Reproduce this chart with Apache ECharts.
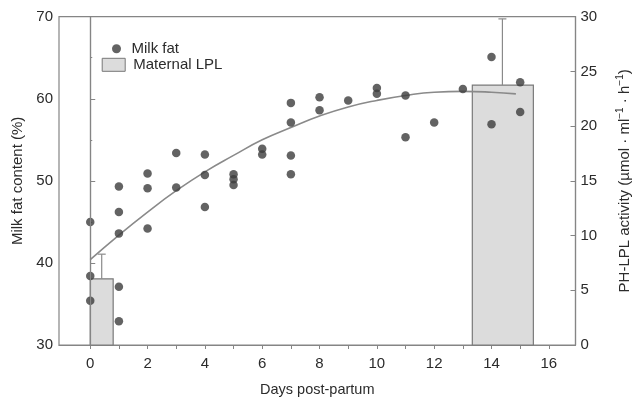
<!DOCTYPE html>
<html>
<head>
<meta charset="utf-8">
<script src="https://cdn.jsdelivr.net/npm/echarts@6/dist/echarts.min.js"></script>
<style>html,body{margin:0;padding:0;background:#fff}#c{width:640px;height:402px}</style>
</head>
<body>
<div id="c"></div>
<script>
// Milk fat content (%) by day post-partum
var fatDays   = [0, 0, 0, 1, 1, 1, 1, 1, 2, 2, 2, 3, 3, 4, 4, 4, 5, 5, 5, 6, 6, 7, 7, 7, 7, 8, 8, 9, 10, 10, 11, 11, 12, 13, 14, 14, 15, 15];
var fatValues = [45.0, 38.4, 35.4, 49.3, 46.2, 43.6, 37.1, 32.9, 50.9, 49.1, 44.2, 53.4, 49.2, 53.2, 50.7, 46.8, 50.8, 50.2, 49.5, 53.9, 53.2, 59.5, 57.1, 53.1, 50.8, 60.2, 58.6, 59.8, 61.3, 60.6, 60.4, 55.3, 57.1, 61.2, 65.1, 56.9, 62.0, 58.4];
// Fitted curve
var curveDays   = [0, 1, 2, 3, 4, 5, 6, 7, 8, 9, 10, 11, 12, 13, 14, 14.85];
var curveValues = [40.4, 43.4, 46.2, 48.8, 51.1, 53.1, 55.0, 56.5, 57.9, 59.0, 59.8, 60.4, 60.8, 60.9, 60.8, 60.6];
// Maternal LPL bars (PH-LPL activity)
var barStart  = [0, 13.33];
var barEnd    = [0.8, 15.46];
var barCenter = [0.4, 14.38];
var barValues = [6.05, 23.75];
var barErrTop = [8.3, 29.8];
// Axis ticks
var xTickValues  = [0,1,2,3,4,5,6,7,8,9,10,11,12,13,14,15,16];
var xLabelValues = [0,2,4,6,8,10,12,14,16];

var FONT = 'Liberation Sans, Arial, Helvetica, sans-serif';
var TXT = '#2b2b2b';
var AX = '#858585';

var scatterData = fatDays.map(function(d, i){ return [d, fatValues[i]]; });
var curveData = curveDays.map(function(d, i){ return [d, curveValues[i]]; });
var barData = barStart.map(function(s, i){ return [s, barEnd[i], barValues[i], barErrTop[i], barCenter[i]]; });

var chart = echarts.init(document.getElementById('c'), null, {renderer: 'canvas'});
chart.setOption({
  animation: false,
  backgroundColor: '#fff',
  textStyle: {fontFamily: FONT, color: TXT},
  grid: {left: 59, right: 63.7, top: 16.7, bottom: 56.3, show: true, borderColor: AX, borderWidth: 1.2, backgroundColor: 'transparent'},
  legend: [
    {data: ['Milk fat'], left: 112, top: 41.2, padding: 0, itemWidth: 16, itemHeight: 9, icon: 'circle',
     textStyle: {fontFamily: FONT, fontSize: 15, color: TXT, padding: [0,0,0,2]}, selectedMode: false},
    {data: ['Maternal LPL'], left: 101.7, top: 57.3, padding: 0, itemWidth: 23, itemHeight: 13, icon: 'rect',
     itemStyle: {borderColor: '#777', borderWidth: 1},
     textStyle: {fontFamily: FONT, fontSize: 15, color: TXT, padding: [0,0,0,3]}, selectedMode: false}
  ],
  xAxis: {
    type: 'value', min: -1.09, max: 16.93,
    name: 'Days post-partum', nameLocation: 'middle', nameGap: 37,
    nameTextStyle: {fontFamily: FONT, fontSize: 14.5, color: TXT},
    axisLine: {lineStyle: {color: AX, width: 1.2}},
    axisTick: {show: true, inside: false, length: 4, lineStyle: {color: AX}, customValues: xTickValues},
    axisLabel: {fontFamily: FONT, fontSize: 15, color: TXT, margin: 11, customValues: xLabelValues},
    splitLine: {show: false}
  },
  yAxis: [
    {
      type: 'value', min: 30, max: 70, interval: 10, position: 'left',
      name: 'Milk fat content (%)', nameLocation: 'middle', nameGap: 34, nameRotate: 90,
      nameTextStyle: {fontFamily: FONT, fontSize: 15, color: TXT},
      axisLine: {show: true, lineStyle: {color: AX, width: 1.2}},
      axisTick: {show: true, inside: true, length: 5, lineStyle: {color: AX}},
      minorTick: {show: true, splitNumber: 2, length: 2, lineStyle: {color: AX}},
      axisLabel: {fontFamily: FONT, fontSize: 15, color: TXT, margin: 6},
      splitLine: {show: false}
    },
    {
      type: 'value', min: 0, max: 30, interval: 5, position: 'right',
      name: '{n|PH-LPL activity (µmol · ml}{s|−1}{n| · h}{s|−1}{n|)}', nameLocation: 'middle', nameGap: 40, nameRotate: 90,
      nameTextStyle: {fontFamily: FONT, fontSize: 15, color: TXT,
        rich: {n: {fontFamily: FONT, fontSize: 15, color: TXT}, s: {fontFamily: FONT, fontSize: 10, color: TXT, verticalAlign: 'top', padding: [0,0,8,0]}}},
      axisLine: {show: true, lineStyle: {color: AX, width: 1.2}},
      axisTick: {show: true, inside: true, length: 5, lineStyle: {color: AX}},
      axisLabel: {fontFamily: FONT, fontSize: 15, color: TXT, margin: 5},
      splitLine: {show: false}
    }
  ],
  series: [
    {
      name: 'Maternal LPL', type: 'custom', xAxisIndex: 0, yAxisIndex: 1, z: 1,
      itemStyle: {color: '#dcdcdc', borderColor: '#777'},
      encode: {x: [0, 1], y: [2, 3]},
      data: barData,
      renderItem: function(params, api){
        var tl = api.coord([api.value(0), api.value(2)]);
        var br = api.coord([api.value(1), 0]);
        var c0 = api.coord([api.value(4), api.value(2)]);
        var c1 = api.coord([api.value(4), api.value(3)]);
        return {type: 'group', children: [
          {type: 'rect', shape: {x: tl[0], y: tl[1], width: br[0]-tl[0], height: br[1]-tl[1]},
           style: {fill: '#dcdcdc', stroke: '#7a7a7a', lineWidth: 1.2}},
          {type: 'line', shape: {x1: c0[0], y1: c0[1], x2: c1[0], y2: c1[1]}, style: {stroke: '#8a8a8a', lineWidth: 1.2}},
          {type: 'line', shape: {x1: c1[0]-4, y1: c1[1], x2: c1[0]+4, y2: c1[1]}, style: {stroke: '#8a8a8a', lineWidth: 1.2}}
        ]};
      }
    },
    {
      name: 'Fit', type: 'line', xAxisIndex: 0, yAxisIndex: 0, z: 3,
      data: curveData, smooth: true, showSymbol: false, symbol: 'none',
      lineStyle: {color: '#8a8a8a', width: 1.6}
    },
    {
      name: 'Milk fat', type: 'scatter', xAxisIndex: 0, yAxisIndex: 0, z: 4,
      data: scatterData, symbol: 'circle', symbolSize: 8.5,
      itemStyle: {color: '#3c3c3c'},
      markLine: {silent: true, symbol: 'none', label: {show: false},
        lineStyle: {color: AX, type: 'solid', width: 1.2},
        data: [{xAxis: 0}]}
    }
  ]
});
</script>
</body>
</html>
